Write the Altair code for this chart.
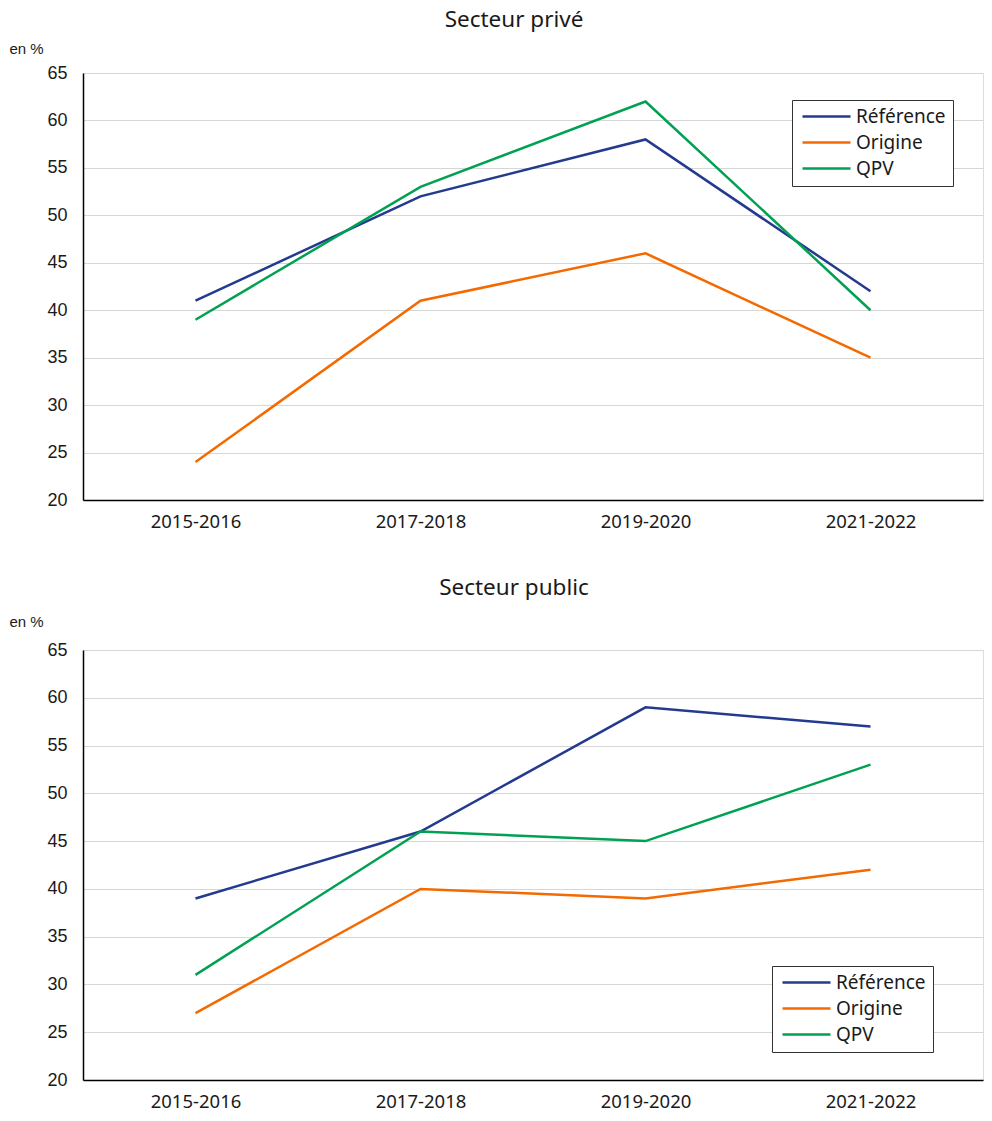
import altair as alt
import pandas as pd

periods = ["2015-2016", "2017-2018", "2019-2020", "2021-2022"]
series = ["Référence", "Origine", "QPV"]
colors = ["#233A8F", "#F46A00", "#00A152"]

prive_reference = [41, 52, 58, 42]
prive_origine = [24, 41, 46, 35]
prive_qpv = [39, 53, 62, 40]

public_reference = [39, 46, 59, 57]
public_origine = [27, 40, 39, 42]
public_qpv = [31, 46, 45, 53]


def frame(ref, ori, qpv):
    rows = []
    for name, vals in zip(series, [ref, ori, qpv]):
        for p, v in zip(periods, vals):
            rows.append({"periode": p, "serie": name, "valeur": v})
    return pd.DataFrame(rows)


def panel(df, title, height, lx, ly, toff, ty):
    return alt.Chart(df).mark_line(strokeWidth=2.5).encode(
        x=alt.X("periode:N", sort=periods, title=None,
                scale=alt.Scale(paddingInner=1, paddingOuter=0.5),
                axis=alt.Axis(labelAngle=0, labelFont="Noto Sans", labelFontSize=18.5,
                              labelColor="#1a1a1a", labelPadding=12, ticks=False,
                              domainColor="#000000", domainWidth=1.5, grid=False)),
        y=alt.Y("valeur:Q", title="en %",
                scale=alt.Scale(domain=[20, 65], nice=False, zero=False),
                axis=alt.Axis(values=list(range(20, 70, 5)), labelFont="Liberation Sans",
                              labelFontSize=18, labelColor="#1a1a1a", labelPadding=16,
                              ticks=False, domainColor="#000000", domainWidth=1.5,
                              gridColor="#d6d6d6", gridWidth=1,
                              titleAngle=0, titleAlign="left", titleBaseline="alphabetic",
                              titleX=-74, titleY=ty, titleFont="Liberation Sans",
                              titleFontSize=15, titleFontWeight="normal", titleColor="#1a1a1a")),
        color=alt.Color("serie:N", sort=series,
                        scale=alt.Scale(domain=series, range=colors),
                        legend=alt.Legend(orient="none", legendX=lx, legendY=ly, title=None,
                                          strokeColor="#333333", fillColor="white",
                                          padding=7, symbolType="M-3,0L3,0", symbolSize=256,
                                          symbolStrokeWidth=2.5, symbolOffset=18,
                                          labelFont="Noto Sans",
                                          labelFontSize=19, labelColor="#1a1a1a",
                                          labelOffset=20, rowPadding=6, cornerRadius=0)),
    ).properties(
        width=900, height=height,
        title=alt.TitleParams(title, font="Noto Sans", fontSize=22.5, fontWeight="normal",
                              color="#1a1a1a", anchor="middle", dx=-19, offset=toff),
    )


top = panel(frame(prive_reference, prive_origine, prive_qpv), "Secteur privé", 427, 709, 27, 10, -20)
bottom = panel(frame(public_reference, public_origine, public_qpv), "Secteur public", 430, 689, 316, 15, -24)

chart = alt.vconcat(top, bottom, spacing=45).resolve_scale(color="independent").resolve_legend(
    color="independent"
).properties(padding=0).configure_view(stroke=None).configure(background="white")

chart.save("out.html", embed_options={"renderer": "svg", "actions": False})
